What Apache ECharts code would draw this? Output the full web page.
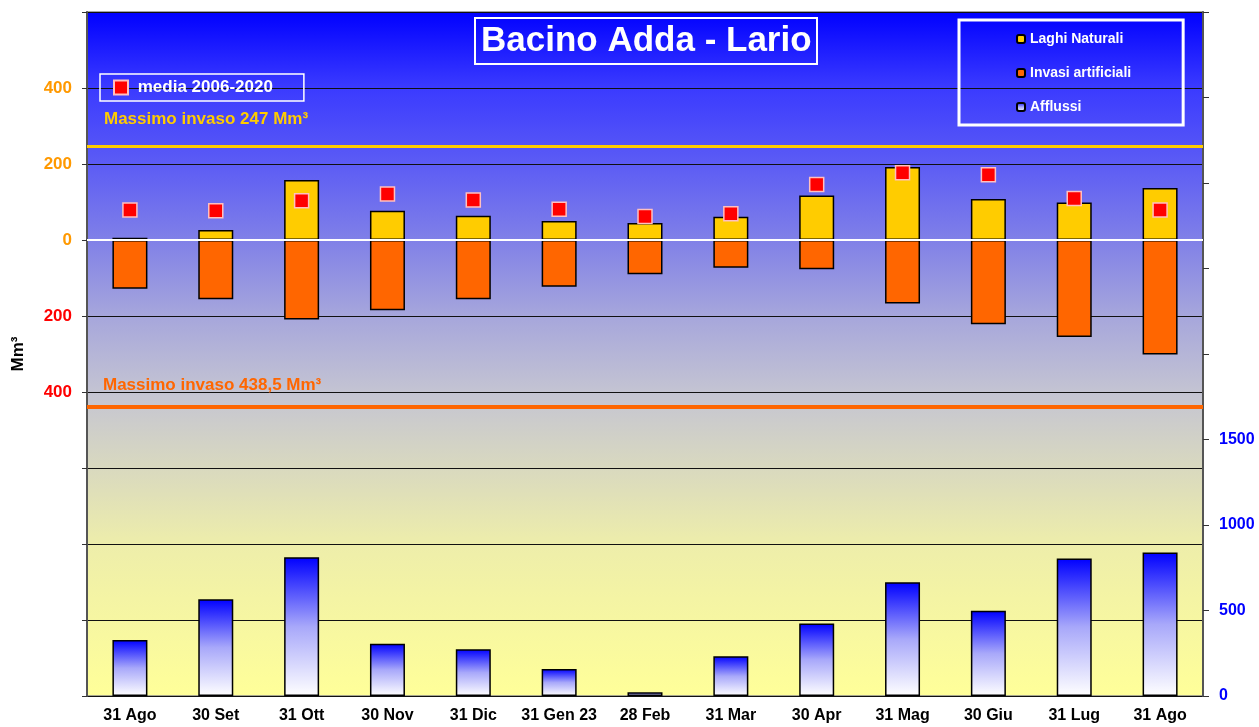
<!DOCTYPE html>
<html>
<head>
<meta charset="utf-8">
<title>Bacino Adda - Lario</title>
<script src="https://cdn.jsdelivr.net/npm/echarts@6/dist/echarts.min.js"></script>
<style>
  html, body { margin: 0; padding: 0; background: #fff; }
  #chart { width: 1259px; height: 727px; }
</style>
</head>
<body>
<div id="chart"></div>
<script>
const categories = ['31 Ago', '30 Set', '31 Ott', '30 Nov', '31 Dic', '31 Gen 23', '28 Feb', '31 Mar', '30 Apr', '31 Mag', '30 Giu', '31 Lug', '31 Ago']
// Mm3, left axis (invasi drawn downwards)
const laghiNaturali = [6, 26, 158, 77, 64, 50, 45, 61, 117, 192, 108, 99, 137]
const invasiArtificiali = [-128, -156, -209, -185, -156, -123, -90, -73, -77, -167, -222, -255, -301]
const media = [79, 77, 103, 121, 105, 81, 62, 69, 146, 177, 172, 109, 79]
// Mm3, right axis
const afflussi = [327, 566, 811, 306, 274, 158, 22, 232, 424, 665, 498, 804, 839]
const maxLaghi = 247
const maxInvasi = 438.5

const FONT = 'Liberation Sans, Arial, sans-serif'

const chart = echarts.init(document.getElementById('chart'))

chart.setOption({
  animation: false,
  textStyle: { fontFamily: FONT },
  title: {
    text: 'Bacino Adda - Lario',
    left: 475,
    top: 18,
    padding: [5, 6, 5, 6],
    borderColor: '#fff',
    borderWidth: 2,
    textStyle: { color: '#fff', fontSize: 35, fontWeight: 'bold', fontFamily: FONT, lineHeight: 36 }
  },
  legend: [
    {
      data: ['Laghi Naturali', 'Invasi artificiali', 'Afflussi'],
      orient: 'vertical',
      left: 959,
      top: 20,
      padding: [12, 52, 11, 57],
      itemGap: 20,
      itemWidth: 8,
      itemHeight: 8,
      selectedMode: false,
      borderColor: '#fff',
      borderWidth: 3,
      textStyle: { color: '#fff', fontSize: 14, fontWeight: 'bold', fontFamily: FONT }
    },
    {
      data: ['media 2006-2020'],
      left: 100,
      top: 74,
      padding: [5, 31, 5, 13],
      itemWidth: 14,
      itemHeight: 14,
      selectedMode: false,
      borderColor: '#fff',
      borderWidth: 1.5,
      formatter: name => ' ' + name,
      textStyle: { color: '#fff', fontSize: 17, fontWeight: 'bold', fontFamily: FONT }
    }
  ],
  grid: {
    left: 87,
    right: 56,
    top: 12,
    bottom: 31,
    show: true,
    borderColor: '#888',
    borderWidth: 1.5,
    backgroundColor: {
      type: 'linear', x: 0, y: 0, x2: 0, y2: 1,
      colorStops: [
        { offset: 0, color: '#0000ff' },
        { offset: 0.11, color: '#3a3aff' },
        { offset: 0.22, color: '#5b5bf5' },
        { offset: 0.33, color: '#7f7fe8' },
        { offset: 0.44, color: '#a5a5dc' },
        { offset: 0.56, color: '#c5c5d2' },
        { offset: 0.64, color: '#d4d4c4' },
        { offset: 0.78, color: '#eeeeaa' },
        { offset: 1, color: '#ffff99' }
      ]
    }
  },
  xAxis: {
    type: 'category',
    data: categories,
    axisLine: { lineStyle: { color: '#333', width: 1.5 } },
    axisTick: { length: 5, lineStyle: { color: '#333' } },
    axisLabel: { color: '#000', fontSize: 16, fontWeight: 'bold', margin: 12, interval: 0 }
  },
  yAxis: [
    {
      type: 'value',
      min: -1200,
      max: 600,
      interval: 200,
      name: 'Mm³',
      nameLocation: 'middle',
      nameGap: 60,
      nameTextStyle: { color: '#000', fontSize: 17, fontWeight: 'bold' },
      axisLine: { show: true, lineStyle: { color: '#555', width: 2 } },
      axisTick: { show: true, length: 5, lineStyle: { color: '#333' } },
      axisLabel: {
        fontSize: 17,
        fontWeight: 'bold',
        margin: 15,
        color: v => (v >= 0 ? '#FF9900' : '#FF0000'),
        formatter: v => (Math.abs(v) <= 400 ? String(Math.abs(v)) : '')
      },
      splitLine: { lineStyle: { color: '#111', width: 1 } }
    },
    {
      type: 'value',
      min: 0,
      max: 4000,
      interval: 500,
      position: 'right',
      axisLine: { show: true, lineStyle: { color: '#555', width: 2 } },
      axisTick: { show: true, length: 6, lineStyle: { color: '#333' } },
      axisLabel: {
        color: '#0000FF',
        fontSize: 16,
        fontWeight: 'bold',
        margin: 16,
        formatter: v => (v <= 1500 ? String(v) : '')
      },
      splitLine: { show: false }
    }
  ],
  graphic: [
    {
      type: 'text',
      left: 104,
      top: 111,
      z: 10,
      style: { text: 'Massimo invaso 247 Mm³', fill: '#FFCC00', font: 'bold 17px ' + FONT }
    },
    {
      type: 'text',
      left: 103,
      top: 377,
      z: 10,
      style: { text: 'Massimo invaso 438,5 Mm³', fill: '#FF6600', font: 'bold 17px ' + FONT }
    }
  ],
  series: [
    {
      name: 'Afflussi',
      type: 'bar',
      yAxisIndex: 1,
      barWidth: 35,
      barGap: '-100%',
      data: afflussi,
      itemStyle: {
        color: {
          type: 'linear', x: 0, y: 0, x2: 0, y2: 1,
          colorStops: [
            { offset: 0, color: '#0000ff' },
            { offset: 0.5, color: '#a8a8fa' },
            { offset: 1, color: '#ffffff' }
          ]
        },
        borderColor: '#000',
        borderWidth: 1.5
      }
    },
    {
      name: 'Laghi Naturali',
      type: 'bar',
      barWidth: 35,
      barGap: '-100%',
      data: laghiNaturali,
      itemStyle: { color: '#FFCC00', borderColor: '#000', borderWidth: 1.5 },
      markLine: {
        silent: true,
        symbol: 'none',
        label: { show: false },
        data: [
          { yAxis: maxLaghi, lineStyle: { color: '#FFCC00', width: 3, type: 'solid' } },
          { yAxis: -maxInvasi, lineStyle: { color: '#FF6600', width: 4, type: 'solid' } }
        ]
      }
    },
    {
      name: 'Invasi artificiali',
      type: 'bar',
      barWidth: 35,
      barGap: '-100%',
      data: invasiArtificiali,
      itemStyle: { color: '#FF6600', borderColor: '#000', borderWidth: 1.5 },
      markLine: {
        silent: true,
        symbol: 'none',
        label: { show: false },
        z: 5,
        data: [
          { yAxis: 0, lineStyle: { color: '#fff', width: 2, type: 'solid' } }
        ]
      }
    },
    {
      name: 'media 2006-2020',
      type: 'scatter',
      symbol: 'rect',
      symbolSize: 14,
      z: 6,
      data: media,
      itemStyle: { color: '#FF0000', borderColor: '#ffc0c0', borderWidth: 1.5, opacity: 1 }
    }
  ]
})
</script>
</body>
</html>
